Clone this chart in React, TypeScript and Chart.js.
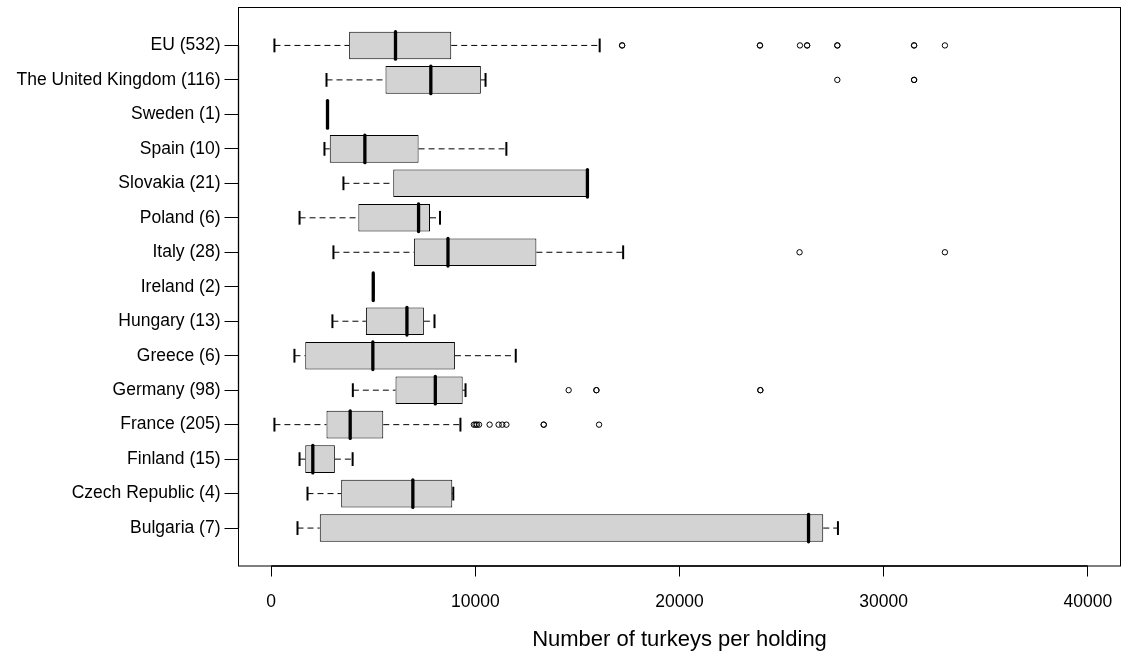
import { useEffect, useRef } from 'react';
import { Chart, registerables } from 'chart.js';

Chart.register(...registerables);

// Countries, top to bottom, with the number of holdings in brackets
const countries = [
  'EU (532)',
  'The United Kingdom (116)',
  'Sweden (1)',
  'Spain (10)',
  'Slovakia (21)',
  'Poland (6)',
  'Italy (28)',
  'Ireland (2)',
  'Hungary (13)',
  'Greece (6)',
  'Germany (98)',
  'France (205)',
  'Finland (15)',
  'Czech Republic (4)',
  'Bulgaria (7)',
];

// Five-number summaries (turkeys per holding)
const whiskerLow = [160, 2710, 2760, 2610, 3540, 1390, 3050, 5000, 3000, 1140, 4000, 160, 1390, 1780, 1290];
const lowerQuartile = [3820, 5600, 2760, 2870, 5980, 4270, 6990, 5000, 4640, 1670, 6090, 2710, 1670, 3430, 2380];
const medians = [6090, 7820, 2760, 4590, 15490, 7220, 8660, 5000, 6650, 4980, 8040, 3870, 2040, 6940, 26320];
const upperQuartile = [8820, 10270, 2760, 7220, 15490, 7780, 12990, 5000, 7480, 9000, 9380, 5490, 3120, 8870, 27040];
const whiskerHigh = [16090, 10500, 2760, 11520, 15490, 8270, 17240, 5000, 8000, 11980, 9520, 9270, 3990, 8920, 27760];

// Holdings beyond the whiskers (repeated values are separate holdings)
const outliersEU = [17190, 17190, 23940, 23940, 25900, 26250, 26250, 27730, 27730, 31490, 31490, 33000];
const outliersUK = [27730, 31490, 31490];
const outliersItaly = [25880, 33000];
const outliersGermany = [14570, 15930, 15930, 23960, 23960];
const outliersFrance = [9930, 10010, 10080, 10180, 10700, 11140, 11320, 11520, 13350, 13350, 16060];
const outliersByCountry = [
  outliersEU, outliersUK, [], [], [], [], outliersItaly, [], [], [],
  outliersGermany, outliersFrance, [], [], [],
];

const xTicks = [0, 10000, 20000, 30000, 40000];
const xMin = -1600;
const xMax = 41600;

const FONT = "'Liberation Sans', Arial, Helvetica, sans-serif";

// Row position on the linear y scale: first country at the top
const rowOf = (i: number) => countries.length - i;

const boxParts = {
  id: 'boxParts',
  beforeDatasetsDraw(chart: any) {
    const { ctx, scales } = chart;
    const x = scales.x;
    const y = scales.y;
    ctx.save();
    ctx.strokeStyle = '#000';
    ctx.lineWidth = 1;
    ctx.setLineDash([6, 4]);
    countries.forEach((_, i) => {
      const py = y.getPixelForValue(rowOf(i));
      const segs = [
        [whiskerLow[i], lowerQuartile[i]],
        [upperQuartile[i], whiskerHigh[i]],
      ];
      segs.forEach(([a, b]) => {
        if (a === b) return;
        ctx.beginPath();
        ctx.moveTo(x.getPixelForValue(a), py);
        ctx.lineTo(x.getPixelForValue(b), py);
        ctx.stroke();
      });
    });
    ctx.restore();
  },
  afterDatasetsDraw(chart: any) {
    const { ctx, scales, chartArea } = chart;
    const x = scales.x;
    const y = scales.y;
    ctx.save();
    ctx.strokeStyle = '#000';
    ctx.setLineDash([]);

    // whisker staples
    ctx.lineWidth = 2;
    ctx.lineCap = 'butt';
    countries.forEach((_, i) => {
      const y0 = y.getPixelForValue(rowOf(i) - 0.2);
      const y1 = y.getPixelForValue(rowOf(i) + 0.2);
      [whiskerLow[i], whiskerHigh[i]].forEach((v) => {
        const px = x.getPixelForValue(v);
        ctx.beginPath();
        ctx.moveTo(px, y0);
        ctx.lineTo(px, y1);
        ctx.stroke();
      });
    });

    // medians
    ctx.lineWidth = 3.3;
    ctx.lineCap = 'round';
    countries.forEach((_, i) => {
      const y0 = y.getPixelForValue(rowOf(i) - 0.4);
      const y1 = y.getPixelForValue(rowOf(i) + 0.4);
      const px = x.getPixelForValue(medians[i]);
      ctx.beginPath();
      ctx.moveTo(px, y0);
      ctx.lineTo(px, y1);
      ctx.stroke();
    });

    // plot frame
    ctx.lineCap = 'butt';
    ctx.lineWidth = 1;
    ctx.strokeRect(chartArea.left, chartArea.top, chartArea.right - chartArea.left, chartArea.bottom - chartArea.top);

    // axis lines along the tick ranges
    ctx.lineWidth = 1.6;
    ctx.beginPath();
    ctx.moveTo(x.getPixelForValue(xTicks[0]), chartArea.bottom);
    ctx.lineTo(x.getPixelForValue(xTicks[xTicks.length - 1]), chartArea.bottom);
    ctx.stroke();
    ctx.lineWidth = 1.3;
    ctx.beginPath();
    ctx.moveTo(chartArea.left, y.getPixelForValue(1));
    ctx.lineTo(chartArea.left, y.getPixelForValue(countries.length));
    ctx.stroke();
    ctx.restore();
  },
};

// Keep the plot area fixed: no extra room for overhanging tick labels
const noLabelPadding = (scale: any) => {
  scale.paddingTop = 0;
  scale.paddingBottom = 0;
  scale.paddingLeft = 0;
  scale.paddingRight = 0;
};

export default function App() {
  const canvasRef = useRef<HTMLCanvasElement | null>(null);

  useEffect(() => {
    const canvas = canvasRef.current;
    if (!canvas) return;

    const boxes = countries.map((_, i) => ({ x: [lowerQuartile[i], upperQuartile[i]], y: rowOf(i) }));
    const outlierPoints: { x: number; y: number }[] = [];
    outliersByCountry.forEach((list, i) => {
      list.forEach((v) => outlierPoints.push({ x: v, y: rowOf(i) }));
    });

    const chart = new Chart(canvas, {
      type: 'bar',
      data: {
        datasets: [
          {
            type: 'scatter',
            data: outlierPoints,
            pointStyle: 'circle',
            pointRadius: 2.7,
            pointBorderWidth: 1,
            pointBorderColor: '#000',
            pointBackgroundColor: 'rgba(0,0,0,0)',
            showLine: false,
          } as any,
          {
            type: 'bar',
            data: boxes as any,
            backgroundColor: '#d3d3d3',
            borderColor: '#000',
            borderWidth: 1,
            borderSkipped: false,
            barPercentage: 0.8,
            categoryPercentage: 1,
          } as any,
        ],
      },
      options: {
        indexAxis: 'y',
        animation: false,
        responsive: false,
        events: [],
        layout: { autoPadding: false, padding: { top: 7.5, right: 1.5, left: 0, bottom: 0 } },
        plugins: {
          legend: { display: false },
          tooltip: { enabled: false },
        },
        scales: {
          x: {
            type: 'linear',
            position: 'bottom',
            min: xMin,
            max: xMax,
            bounds: 'data',
            offset: false,
            afterBuildTicks: (scale: any) => {
              scale.ticks = xTicks.map((v) => ({ value: v }));
            },
            afterFit: (scale: any) => {
              scale.height = 88;
              noLabelPadding(scale);
            },
            grid: {
              display: true,
              drawOnChartArea: false,
              drawTicks: true,
              tickLength: 10.5,
              color: '#000',
              lineWidth: 1,
              offset: false,
            },
            border: { display: false },
            ticks: {
              autoSkip: false,
              maxRotation: 0,
              padding: 15,
              color: '#000',
              font: { family: FONT, size: 17.5 },
              callback: (v: any) => String(v),
            },
            title: {
              display: true,
              text: 'Number of turkeys per holding',
              color: '#000',
              font: { family: FONT, size: 22 },
              padding: { top: 0, bottom: 1 },
            },
          },
          y: {
            type: 'linear',
            position: 'left',
            min: -0.1,
            max: 16.1,
            bounds: 'data',
            offset: false,
            afterBuildTicks: (scale: any) => {
              scale.ticks = countries.map((_, i) => ({ value: i + 1 }));
            },
            afterFit: (scale: any) => {
              scale.width = 238.5;
              noLabelPadding(scale);
            },
            grid: {
              display: true,
              drawOnChartArea: false,
              drawTicks: true,
              tickLength: 14,
              color: '#000',
              lineWidth: 1,
              offset: false,
            },
            border: { display: false },
            ticks: {
              autoSkip: false,
              padding: 4,
              color: '#000',
              font: { family: FONT, size: 17.5 },
              callback: (v: any) => countries[countries.length - Number(v)],
            },
          },
        },
      } as any,
      plugins: [boxParts],
    });

    return () => chart.destroy();
  }, []);

  return (
    <div style={{ position: 'fixed', left: 0, top: 0, width: 1122, height: 654, background: '#fff' }}>
      <canvas ref={canvasRef} width={1122} height={654} style={{ display: 'block' }} />
    </div>
  );
}
